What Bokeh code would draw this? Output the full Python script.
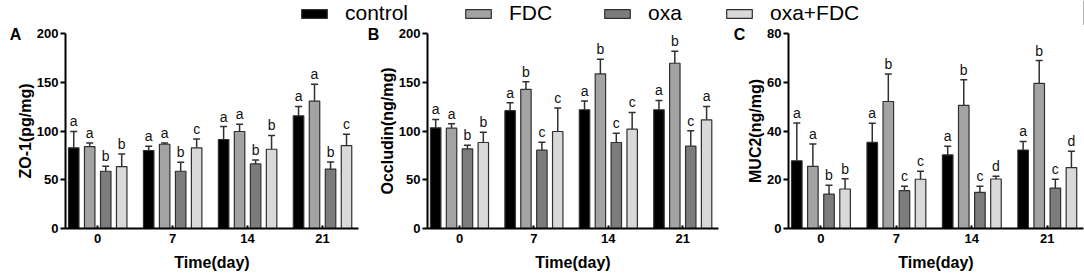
from bokeh.plotting import figure
from bokeh.layouts import column, row
from bokeh.models import (ColumnDataSource, Whisker, TeeHead, FixedTicker, Range1d,
                          Label, Legend, LegendItem)
from bokeh.core.properties import value
from bokeh.embed import file_html
from bokeh.resources import INLINE

days = ["0", "7", "14", "21"]
groups = ["control", "FDC", "oxa", "oxa+FDC"]
colors = ["#000000", "#a3a3a3", "#7c7c7c", "#d9d9d9"]

# ZO-1 (pg/mg)
zo1_mean = [
    [82.7, 80.0, 91.3, 115.6],
    [84.0, 86.4, 99.5, 130.7],
    [58.7, 58.7, 66.2, 61.0],
    [63.5, 82.7, 81.3, 85.1],
]
zo1_err = [
    [16.8, 4.4, 13.3, 9.6],
    [3.8, 1.4, 7.5, 17.2],
    [5.1, 9.2, 4.1, 7.3],
    [13.0, 9.2, 14.1, 11.6],
]
zo1_sig = [
    ["a", "a", "a", "a"],
    ["a", "a", "a", "a"],
    ["b", "b", "b", "b"],
    ["b", "c", "b", "c"],
]

# Occludin (ng/mg)
occ_mean = [
    [103.3, 120.8, 121.8, 121.8],
    [102.9, 142.7, 158.5, 169.5],
    [81.6, 80.3, 88.2, 84.4],
    [88.2, 99.5, 101.9, 111.5],
]
occ_err = [
    [8.5, 8.2, 8.9, 9.6],
    [4.5, 7.9, 15.1, 12.3],
    [3.8, 8.2, 9.6, 15.8],
    [10.6, 24.0, 17.1, 13.7],
]
occ_sig = [
    ["a", "a", "a", "a"],
    ["a", "b", "b", "b"],
    ["b", "c", "c", "c"],
    ["b", "c", "c", "a"],
]

# MUC2 (ng/mg)
muc_mean = [
    [27.8, 35.3, 30.2, 32.2],
    [25.5, 52.1, 50.5, 59.5],
    [14.1, 15.5, 14.8, 16.6],
    [16.2, 20.2, 20.3, 25.0],
]
muc_err = [
    [15.5, 7.9, 3.5, 3.5],
    [9.2, 11.3, 10.5, 9.4],
    [3.6, 1.8, 2.5, 3.6],
    [4.2, 3.3, 1.1, 6.7],
]
muc_sig = [
    ["a", "a", "a", "a"],
    ["a", "b", "b", "b"],
    ["b", "c", "c", "c"],
    ["b", "c", "d", "d"],
]

FONT = "Liberation Sans"
EDGE = "#303030"
OFFSETS = [-0.32, -0.107, 0.107, 0.32]


def panel(letter, ylabel, ymax, ystep, means, errs, sigs, width, left, right, letter_x):
    p = figure(width=width, height=254, output_backend="svg", toolbar_location=None,
               x_range=Range1d(-0.43, 3.48), y_range=Range1d(0, ymax),
               min_border_left=left, min_border_right=right,
               min_border_top=8, min_border_bottom=51)
    p.grid.visible = False
    p.outline_line_color = None
    for j in range(4):
        xs = [i + OFFSETS[j] for i in range(4)]
        src = ColumnDataSource(dict(
            x=xs, top=means[j],
            upper=[m + e for m, e in zip(means[j], errs[j])],
            sig=sigs[j]))
        p.vbar(x="x", top="top", bottom=0, width=0.14, source=src,
               fill_color=colors[j], line_color=EDGE, line_width=1.2)
        w = Whisker(source=src, base="x", lower="top", upper="upper",
                    line_color=EDGE, line_width=1.5, lower_head=None,
                    upper_head=TeeHead(size=7, line_color=EDGE, line_width=1.5))
        p.add_layout(w)
        p.text(x="x", y="upper", text="sig", source=src, text_align="center",
               text_baseline="alphabetic", y_offset=-10,
               text_font=value(FONT), text_font_size=value("14px"), text_color="#111111")

    p.xaxis.ticker = FixedTicker(ticks=[0, 1, 2, 3])
    p.xaxis.major_label_overrides = {i: d for i, d in enumerate(days)}
    p.yaxis.ticker = FixedTicker(ticks=[k * ystep for k in range(5)])
    for ax in (p.xaxis, p.yaxis):
        ax.axis_line_width = 2
        ax.axis_line_color = "#000000"
        ax.major_tick_line_width = 2
        ax.major_tick_line_color = "#000000"
        ax.minor_tick_line_color = None
        ax.major_label_text_font = FONT
        ax.major_label_text_font_style = "bold"
        ax.major_label_text_font_size = "13px"
        ax.major_label_text_color = "#000000"
        ax.axis_label_text_font = FONT
        ax.axis_label_text_font_style = "bold"
        ax.axis_label_text_color = "#000000"
    p.xaxis.major_tick_in = 3
    p.xaxis.major_tick_out = 0
    p.xaxis.major_label_standoff = 5
    p.xaxis.axis_label = "Time(day)"
    p.xaxis.axis_label_text_font_size = "16px"
    p.xaxis.axis_label_standoff = 8
    p.yaxis.major_tick_in = 0
    p.yaxis.major_tick_out = 5
    p.yaxis.major_label_standoff = 2
    p.yaxis.axis_label = ylabel
    p.yaxis.axis_label_text_font_size = "16px"
    p.yaxis.axis_label_standoff = 0

    lab = Label(x=letter_x, y=194, x_units="screen", y_units="screen", text=letter,
                text_font=FONT, text_font_style="bold", text_font_size="16px",
                text_align="center", text_baseline="middle", text_color="#000000")
    p.add_layout(lab, "left")
    return p


pA = panel("A", "ZO-1(pg/mg)", 200, 50, zo1_mean, zo1_err, zo1_sig, 361, 65, 3, 14)
pB = panel("B", "Occludin(ng/mg)", 200, 50, occ_mean, occ_err, occ_sig, 361, 66, 4, 10)
pC = panel("C", "MUC2(ng/mg)", 80, 20, muc_mean, muc_err, muc_sig, 362, 66, 1, 7)

# legend strip
pL = figure(width=1084, height=25, output_backend="svg", toolbar_location=None,
            x_range=Range1d(0, 1), y_range=Range1d(0, 1), x_axis_type=None, y_axis_type=None,
            min_border=0)
pL.grid.visible = False
pL.outline_line_color = None
legend_x = [298, 462, 601, 723]
for j, g in enumerate(groups):
    r = pL.vbar(x=[5], top=[1], width=0.1, fill_color=colors[j], line_color=EDGE, line_width=1.2)
    lg = Legend(items=[LegendItem(label=g, renderers=[r])], location=(legend_x[j], 0),
                orientation="horizontal", padding=0, margin=0, spacing=0,
                label_standoff=15, glyph_width=32, glyph_height=11, label_height=11,
                border_line_color=None, background_fill_alpha=0,
                label_text_font=FONT, label_text_font_size="21px", label_text_color="#000000")
    pL.add_layout(lg)

layout = column(pL, row(pA, pB, pC))
open("out.html", "w").write(file_html(layout, INLINE))
